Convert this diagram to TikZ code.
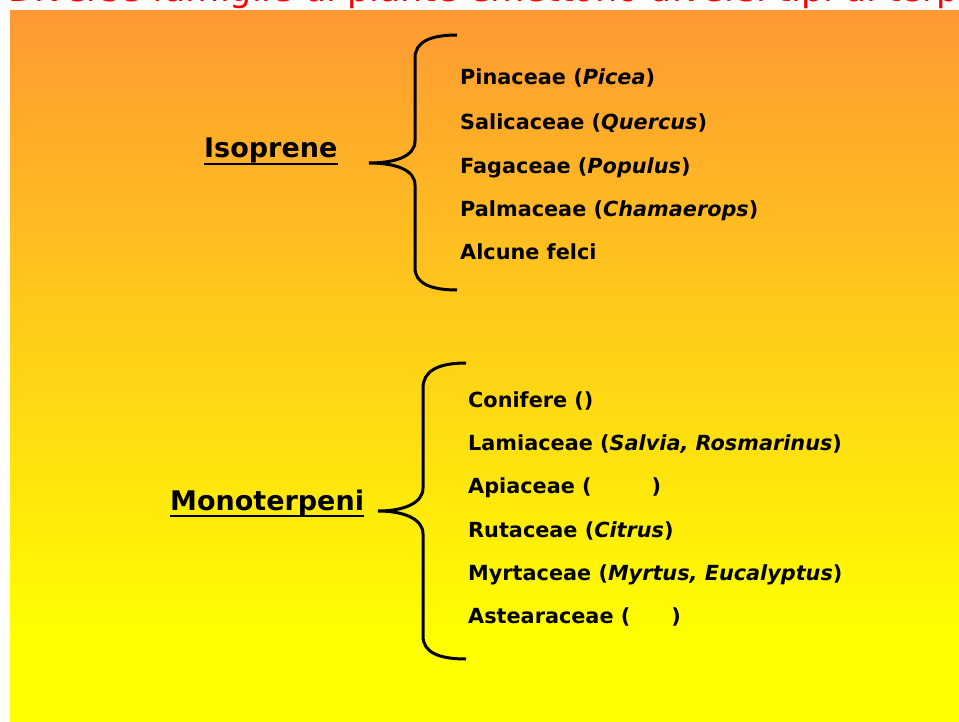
\documentclass[tikz,border=0pt]{standalone}
\usepackage{fontspec}
\setmainfont{DejaVu Sans}
\definecolor{topor}{RGB}{255,153,51}
\definecolor{botyel}{RGB}{255,255,0}
\pgfdeclareverticalshading{bgshade}{100bp}{color(0bp)=(botyel); color(31bp)=(botyel); color(75bp)=(topor); color(100bp)=(topor)}
\tikzset{
  item/.style={anchor=base west, inner sep=0pt, font=\fontsize{20.8}{25}\selectfont\bfseries},
  head/.style={anchor=base west, inner sep=0pt, font=\fontsize{27}{32}\selectfont\bfseries},
  brace/.style={line width=3pt, draw=black},
  uline/.style={line width=2.2pt, draw=black},
}
\begin{document}
\begin{tikzpicture}[x=1pt,y=-1pt]
\useasboundingbox (0,0) rectangle (959,722);
\fill[white] (0,0) rectangle (959,722);
\shade[shading=bgshade] (10,11) rectangle (959,722);
\begin{scope}
  \clip (0,0) rectangle (959,11);
  \node[anchor=base west, inner sep=0pt, text=red, font=\fontsize{35}{40}\selectfont] (title) at (347,2) {\llap{Diverse famiglie di }piante emettono diversi tipi di terpeni};
\end{scope}

% Isoprene group
\node[head] (iso) at (204,158) {Isoprene};
\draw[uline] ([yshift=-6pt]iso.base west) -- ([yshift=-6pt]iso.base east);
\coordinate (b1top) at (457,35);
\coordinate (b1tip) at (369,163);
\coordinate (b1bot) at (457,290);
\draw[brace] (b1top) .. controls (430,35) and (415,42) .. (415,58) -- (415,141)
  .. controls (415,156) and (396,163) .. (b1tip)
  .. controls (396,163) and (415,170) .. (415,185) -- (415,268)
  .. controls (415,283) and (430,290) .. (b1bot);
\node[item] (i1) at (460,85) {Pinaceae (\textit{Picea})};
\node[item] (i2) at (460,130) {Salicaceae (\textit{Quercus})};
\node[item] (i3) at (460,174) {Fagaceae (\textit{Populus})};
\node[item] (i4) at (460,217) {Palmaceae (\textit{Chamaerops})};
\node[item] (i5) at (460,260) {Alcune felci};

% Monoterpeni group
\node[head] (mono) at (170,510) {Monoterpeni};
\draw[uline] ([yshift=-6pt]mono.base west) -- ([yshift=-6pt]mono.base east);
\coordinate (b2top) at (466,363);
\coordinate (b2tip) at (378,511);
\coordinate (b2bot) at (466,659);
\draw[brace] (b2top) .. controls (438,363) and (423,371) .. (423,388) -- (423,488)
  .. controls (423,503) and (404,511) .. (b2tip)
  .. controls (404,511) and (423,519) .. (423,534) -- (423,636)
  .. controls (423,652) and (438,659) .. (b2bot);
\node[item] (m1) at (468,407) {Conifere ()};
\node[item] (m2) at (468,450) {Lamiaceae (\textit{Salvia, Rosmarinus})};
\node[item] (m3) at (468,493) {Apiaceae (\hspace{60pt})};
\node[item] (m4) at (468,537) {Rutaceae (\textit{Citrus})};
\node[item] (m5) at (468,580) {Myrtaceae (\textit{Myrtus, Eucalyptus})};
\node[item] (m6) at (468,623) {Astearaceae (\hspace{41pt})};
\end{tikzpicture}
\end{document}
